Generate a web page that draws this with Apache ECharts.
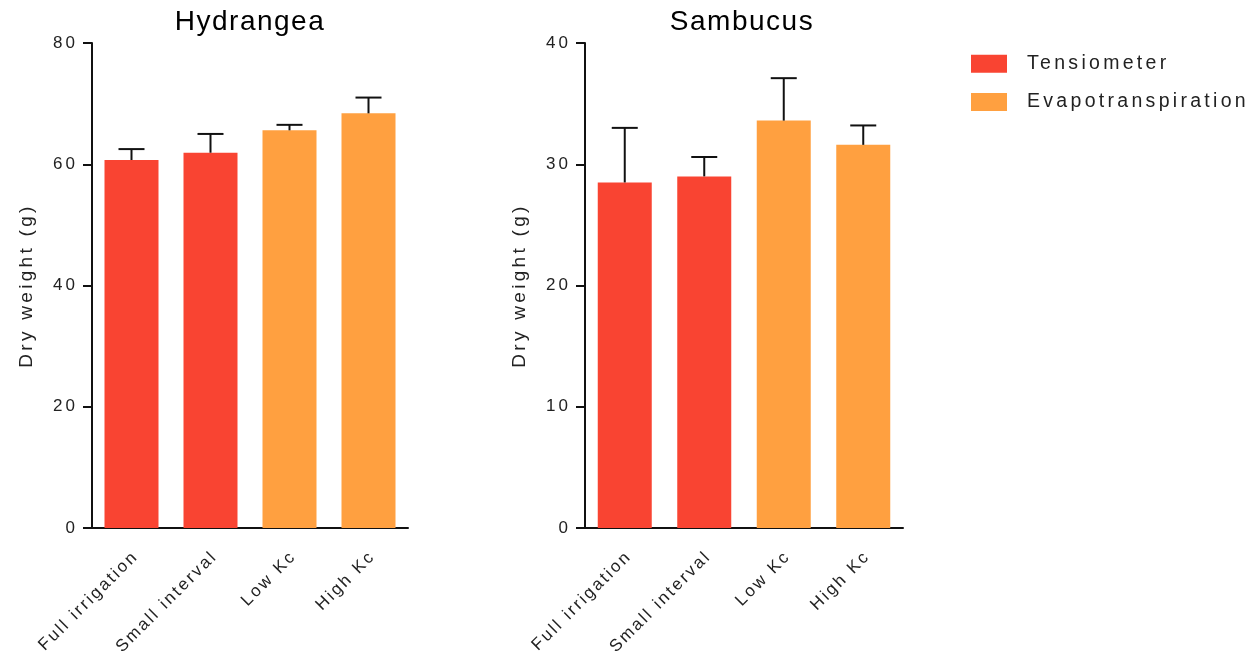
<!DOCTYPE html>
<html><head><meta charset="utf-8">
<script src="https://cdn.jsdelivr.net/npm/echarts@6/dist/echarts.min.js"></script>
<style>html,body{margin:0;padding:0;background:#fff}#c{width:1260px;height:667px}</style>
</head><body><div id="c"></div>
<script>
const categories = ['Full irrigation', 'Small interval', 'Low Kc', 'High Kc'];
const seriesNames = ['Tensiometer', 'Evapotranspiration'];
const groupOfCategory = [0, 0, 1, 1];
const hydrangeaMean = [60.7, 61.9, 65.6, 68.4];
const hydrangeaErr = [1.8, 3.1, 0.9, 2.6];
const sambucusMean = [28.5, 29.0, 33.6, 31.6];
const sambucusErr = [4.5, 1.6, 3.5, 1.6];
const hydrangeaTicks = { min: 0, max: 80, interval: 20 };
const sambucusTicks = { min: 0, max: 40, interval: 10 };

// letter spacing support: a marker family "LSnn" in the font list sets canvas letterSpacing to nn/10 px
(function () {
  const proto = CanvasRenderingContext2D.prototype;
  const desc = Object.getOwnPropertyDescriptor(proto, 'font');
  if (!desc || !('letterSpacing' in proto)) return;
  Object.defineProperty(proto, 'font', {
    configurable: true,
    get() { return desc.get.call(this); },
    set(v) {
      desc.set.call(this, v);
      const m = /LS(\d+)/.exec(v);
      this.letterSpacing = m ? (m[1] / 10) + 'px' : '0px';
    }
  });
})();

const colors = ['#F94432', '#FFA040'];
const fam = (ls) => 'LS' + ls + ', "Liberation Sans", Arial, sans-serif';
const chart = echarts.init(document.getElementById('c'));

function grp(means, g) { return means.map((v, i) => groupOfCategory[i] === g ? v : null); }

function barsFor(idx, means, errs) {
  const s = [];
  seriesNames.forEach((n, g) => {
    s.push({
      name: n, type: 'bar', xAxisIndex: idx, yAxisIndex: idx,
      data: grp(means, g), barWidth: 54, barGap: '-100%',
      itemStyle: { color: colors[g] }, emphasis: { disabled: true }
    });
  });
  s.push({
    type: 'custom', xAxisIndex: idx, yAxisIndex: idx, z: 5,
    data: means.map((m, i) => [i, m, m + errs[i]]),
    renderItem: function (params, api) {
      const x = api.value(0);
      const p0 = api.coord([x, api.value(1)]);
      const p1 = api.coord([x, api.value(2)]);
      const hw = 13;
      const st = { stroke: '#111', lineWidth: 2 };
      return { type: 'group', children: [
        { type: 'line', shape: { x1: p0[0], y1: p0[1], x2: p1[0], y2: p1[1] }, style: st },
        { type: 'line', shape: { x1: p1[0] - hw, y1: p1[1], x2: p1[0] + hw, y2: p1[1] }, style: st }
      ]};
    }
  });
  return s;
}

function xAx(idx) {
  return {
    type: 'category', gridIndex: idx, data: categories,
    axisLine: { lineStyle: { color: '#111', width: 2 } },
    axisTick: { alignWithLabel: true, length: 8, lineStyle: { color: '#111', width: 2 } },
    axisLabel: { rotate: 45, fontSize: 17, color: '#222', fontFamily: fam(24), margin: 30, padding: [0, -6, 0, 0], interval: 0 }
  };
}
function yAx(idx, t) {
  return {
    type: 'value', gridIndex: idx, min: t.min, max: t.max, interval: t.interval,
    name: 'Dry weight (g)', nameLocation: 'middle', nameRotate: 90, nameGap: 54,
    nameTextStyle: { fontSize: 19, color: '#222', fontFamily: fam(33) },
    axisLine: { show: true, lineStyle: { color: '#111', width: 2 } },
    axisTick: { show: true, length: 9, lineStyle: { color: '#111', width: 2 } },
    splitLine: { show: false },
    axisLabel: { fontSize: 17, color: '#222', fontFamily: fam(30), margin: 14 }
  };
}

chart.setOption({
  animation: false,
  title: [
    { text: 'Hydrangea', left: 245, top: 3, textAlign: 'center', textStyle: { fontSize: 28, fontWeight: 'normal', color: '#000', fontFamily: fam(15) } },
    { text: 'Sambucus', left: 737, top: 3, textAlign: 'center', textStyle: { fontSize: 28, fontWeight: 'normal', color: '#000', fontFamily: fam(15) } }
  ],
  legend: {
    data: seriesNames, orient: 'vertical', left: 971, top: 52, padding: 0, itemWidth: 36, itemHeight: 18, itemGap: 15,
    icon: 'rect', selectedMode: false,
    textStyle: { fontSize: 19.5, color: '#222', fontFamily: fam(33), padding: [2, 0, 0, 15] }
  },
  grid: [
    { left: 92, top: 43, width: 316, height: 485 },
    { left: 585, top: 43, width: 318, height: 485 }
  ],
  xAxis: [xAx(0), xAx(1)],
  yAxis: [yAx(0, hydrangeaTicks), yAx(1, sambucusTicks)],
  series: [...barsFor(0, hydrangeaMean, hydrangeaErr), ...barsFor(1, sambucusMean, sambucusErr)]
});
</script></body></html>
